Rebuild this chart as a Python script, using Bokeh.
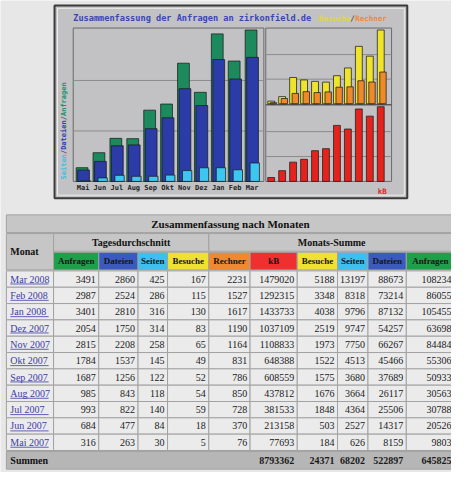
from math import pi
from bokeh.plotting import figure
from bokeh.models import Range1d
from bokeh.embed import file_html
from bokeh.resources import INLINE
from bokeh.core.properties import value

# ---------------- data (table order, newest first) ----------------
table_months = ["Mar 2008", "Feb 2008", "Jan 2008", "Dez 2007", "Nov 2007", "Okt 2007",
                "Sep 2007", "Aug 2007", "Jul 2007", "Jun 2007", "Mai 2007"]
chart_months = ["Mai", "Jun", "Jul", "Aug", "Sep", "Okt", "Nov", "Dez", "Jan", "Feb", "Mar"]

avg_hits = [3491, 2987, 3401, 2054, 2815, 1784, 1687, 985, 993, 684, 316]
avg_files = [2860, 2524, 2810, 1750, 2208, 1537, 1256, 843, 822, 477, 263]
avg_pages = [425, 286, 316, 314, 258, 145, 122, 118, 140, 84, 30]
avg_visits = [167, 115, 130, 83, 65, 49, 52, 54, 59, 18, 5]
sites = [2231, 1527, 1617, 1190, 1164, 831, 786, 850, 728, 370, 76]
kbytes = [1479020, 1292315, 1433733, 1037109, 1108833, 648388, 608559, 437812, 381533, 213158, 77693]
visits = [5188, 3348, 4038, 2519, 1973, 1522, 1575, 1676, 1848, 503, 184]
pages = [13197, 8318, 9796, 9747, 7750, 4513, 3680, 3664, 4364, 2527, 626]
files = [88673, 73214, 87132, 54257, 66267, 45466, 37689, 26117, 25506, 14317, 8159]
hits = [108234, 86055, 105455, 63698, 84484, 55306, 50933, 30563, 30788, 20526, 9803]

total_kbytes = 8793362
total_visits = 24371
total_pages = 68202
total_files = 522897
total_hits = 645825

col_headers = ["Anfragen", "Dateien", "Seiten", "Besuche", "Rechner",
               "kB", "Besuche", "Seiten", "Dateien", "Anfragen"]
chart_title = "Zusammenfassung der Anfragen an zirkonfield.de"

# ---------------- styling ----------------
PAGE_BG = "#e7e7e7"
CHART_BG = "#c2c2c4"
GREEN, BLUE, CYAN = "#1d8a5e", "#2b3ba8", "#3cc6f0"
YELLOW, ORANGE, RED = "#efe42c", "#ef8a2a", "#e4231d"
H_COLORS = ["#1ea04a", "#3a5abe", "#3cc0f0", "#f0e030", "#f08830",
            "#f03030", "#f0e030", "#3cc0f0", "#3a5abe", "#1ea04a"]
MONO = value("DejaVu Sans Mono")
SERIF = value("Liberation Serif")

PX0, PX1, PY0, PY1 = 8, 467, 8, 488
p = figure(width=451, height=472, x_range=Range1d(PX0, PX1), y_range=Range1d(PY1, PY0),
           output_backend="svg", toolbar_location=None, min_border=0,
           x_axis_location=None, y_axis_location=None)
p.grid.visible = False
p.outline_line_color = None
p.background_fill_color = PAGE_BG
p.border_fill_color = PAGE_BG


def y_scale(base, top, vmax):
    u = (base - top) / vmax
    return Range1d(start=(base - PY1) / u, end=(base - PY0) / u)


def x_scale(x0, pitch):
    return Range1d(start=(PX0 - x0) / pitch, end=(PX1 - x0) / pitch)


# chronological order for the chart
c_hits = hits[::-1]
c_files = files[::-1]
c_pages = pages[::-1]
c_visits = visits[::-1]
c_sites = sites[::-1]
c_kb = kbytes[::-1]
idx = list(range(len(chart_months)))

LP, RP = 17.2, 11.15
p.extra_x_ranges = {"mL": x_scale(85, LP), "mR": x_scale(280, RP)}
vmax_vis = max(max(c_visits), max(c_sites))
p.extra_y_ranges = {"hits": y_scale(192, 38, max(c_hits)),
                    "vis": y_scale(113, 38, vmax_vis),
                    "kb": y_scale(192, 116, max(c_kb))}

# ---------------- chart frame ----------------
p.quad(left=63, right=422, top=13, bottom=209, fill_color=CHART_BG,
       line_color="#3a3a3a", line_width=2)
p.quad(left=66, right=419, top=16, bottom=206, fill_color=None,
       line_color="#ececec", line_width=1)
# panels
p.quad(left=[82, 278], right=[276, 406], top=[36, 36], bottom=[192, 192],
       fill_color=None, line_color="#6a6a6a", line_width=1)
p.segment(x0=278, x1=406, y0=114, y1=114, line_color="#5a5a5a", line_width=1.5)

# gridlines
GRID = "#8c8c8c"
p.segment(x0=[82, 82], x1=[276, 276], y0=[max(c_hits) / 3, 2 * max(c_hits) / 3],
          y1=[max(c_hits) / 3, 2 * max(c_hits) / 3], y_range_name="hits",
          line_color=GRID, line_width=1)
p.segment(x0=[278, 278], x1=[406, 406], y0=[vmax_vis / 3, 2 * vmax_vis / 3],
          y1=[vmax_vis / 3, 2 * vmax_vis / 3], y_range_name="vis",
          line_color=GRID, line_width=1)
p.segment(x0=[278, 278], x1=[406, 406], y0=[max(c_kb) / 3, 2 * max(c_kb) / 3],
          y1=[max(c_kb) / 3, 2 * max(c_kb) / 3], y_range_name="kb",
          line_color=GRID, line_width=1)

BAR_LINE = dict(line_color="#1c1c1c", line_width=1, line_alpha=0.75)
# left panel: hits / files / pages
p.quad(left=[i for i in idx], right=[i + 12 / LP for i in idx], bottom=0, top=c_hits,
       x_range_name="mL", y_range_name="hits", fill_color=GREEN, **BAR_LINE)
p.quad(left=[i + 1.5 / LP for i in idx], right=[i + 13.5 / LP for i in idx], bottom=0, top=c_files,
       x_range_name="mL", y_range_name="hits", fill_color=BLUE, **BAR_LINE)
p.quad(left=[i + 5 / LP for i in idx], right=[i + 14.5 / LP for i in idx], bottom=0, top=c_pages,
       x_range_name="mL", y_range_name="hits", fill_color=CYAN, **BAR_LINE)
# right top: visits / sites
p.quad(left=[i for i in idx], right=[i + 7 / RP for i in idx], bottom=0, top=c_visits,
       x_range_name="mR", y_range_name="vis", fill_color=YELLOW, **BAR_LINE)
p.quad(left=[i + 2.5 / RP for i in idx], right=[i + 9 / RP for i in idx], bottom=0, top=c_sites,
       x_range_name="mR", y_range_name="vis", fill_color=ORANGE, **BAR_LINE)
# right bottom: kB
p.quad(left=[i for i in idx], right=[i + 7 / RP for i in idx], bottom=0, top=c_kb,
       x_range_name="mR", y_range_name="kb", fill_color=RED, **BAR_LINE)

# month labels
p.text(x=[i + 7 / LP for i in idx], y=[199] * len(idx), text=chart_months, x_range_name="mL",
       text_font=MONO, text_font_size="7px", text_font_style="bold", text_color="#222222",
       text_align="center", text_baseline="middle")
# titles
p.text(x=[82], y=[26], text=[chart_title], text_font=MONO, text_font_size="8.6px",
       text_font_style="bold", text_color="#3a46b4", text_baseline="middle")
p.text(x=[332, 364, 369], y=[26, 26, 26], text=["Besuche", "/", "Rechner"], text_font=MONO,
       text_font_size="7.5px", text_font_style="bold",
       text_color=["#e0d83a", "#505050", "#f08838"], text_baseline="middle")
p.text(x=[392], y=[202], text=["kB"], text_font=MONO, text_font_size="7.5px",
       text_font_style="bold", text_color=RED, text_baseline="middle")
# vertical axis label
parts = [("Seiten", "#3cc0e0"), ("/", "#505050"), ("Dateien", "#3040b0"),
         ("/", "#505050"), ("Anfragen", "#20906a")]
yy = 190
for txt, col in parts:
    p.text(x=[73], y=[yy], text=[txt], angle=pi / 2, text_font=MONO, text_font_size="7px",
           text_font_style="bold", text_color=col, text_align="left", text_baseline="middle")
    yy -= len(txt) * 4.3

# ---------------- table ----------------
cols = [14, 62, 108, 148, 178, 220, 262, 310, 351, 382, 421, 470]
HEAD = "#c6c6c6"
CELL = "#ebebeb"
LINE = "#a2a2a2"
row_top = 283
row_h = 16.6
nrows = len(table_months)

# title row
p.quad(left=14, right=470, top=226, bottom=244, fill_color=HEAD, line_color=LINE)
p.text(x=[242], y=[235], text=["Zusammenfassung nach Monaten"], text_font=SERIF,
       text_font_size="11px", text_font_style="bold", text_color="#111111",
       text_align="center", text_baseline="middle")
# header rows
p.quad(left=[14, 62, 220], right=[62, 220, 470], top=[245, 245, 245], bottom=[282, 263, 263],
       fill_color=HEAD, line_color=LINE)
p.text(x=[18, 141, 345], y=[263, 254, 254], text=["Monat", "Tagesdurchschnitt", "Monats-Summe"],
       text_font=SERIF, text_font_size="10px", text_font_style="bold", text_color="#111111",
       text_align=["left", "center", "center"], text_baseline="middle")
p.quad(left=cols[1:-1], right=cols[2:], top=264, bottom=282, fill_color=H_COLORS, line_color=LINE)
p.text(x=[(cols[k + 1] + cols[k + 2]) / 2 for k in range(10)], y=[273] * 10, text=col_headers,
       text_font=SERIF, text_font_size="9px", text_font_style="bold", text_color="#151515",
       text_align="center", text_baseline="middle")

# data cells
lefts, rights, tops, bottoms = [], [], [], []
for r in range(nrows):
    for c in range(len(cols) - 1):
        lefts.append(cols[c]); rights.append(cols[c + 1])
        tops.append(row_top + r * row_h); bottoms.append(row_top + (r + 1) * row_h)
p.quad(left=lefts, right=rights, top=tops, bottom=bottoms, fill_color=CELL, line_color=LINE)

row_y = [row_top + (r + 0.5) * row_h for r in range(nrows)]
p.text(x=[18] * nrows, y=row_y, text=table_months, text_font=SERIF, text_font_size="10px",
       text_color="#3c3ca6", text_baseline="middle")
p.segment(x0=[18] * nrows, x1=[57] * nrows, y0=[y + 5 for y in row_y], y1=[y + 5 for y in row_y],
          line_color="#3c3ca6", line_width=0.8)

columns = [avg_hits, avg_files, avg_pages, avg_visits, sites, kbytes, visits, pages, files, hits]
for k, series in enumerate(columns):
    p.text(x=[cols[k + 2] - 3] * nrows, y=row_y, text=[str(v) for v in series], text_font=SERIF,
           text_font_size="10px", text_color="#1a1a1a", text_align="right", text_baseline="middle")

# totals row
sum_top = row_top + nrows * row_h + 1
p.quad(left=14, right=470, top=sum_top, bottom=sum_top + 18, fill_color="#b6b6b6", line_color=LINE)
p.text(x=[18], y=[sum_top + 9], text=["Summen"], text_font=SERIF, text_font_size="10px",
       text_font_style="bold", text_color="#111111", text_baseline="middle")
tot_vals = [total_kbytes, total_visits, total_pages, total_files, total_hits]
p.text(x=[cols[k] - 3 for k in range(7, 12)], y=[sum_top + 9] * 5, text=[str(v) for v in tot_vals],
       text_font=SERIF, text_font_size="10px", text_font_style="bold", text_color="#1a1a1a",
       text_align="right", text_baseline="middle")

open("out.html", "w").write(file_html(p, INLINE))
